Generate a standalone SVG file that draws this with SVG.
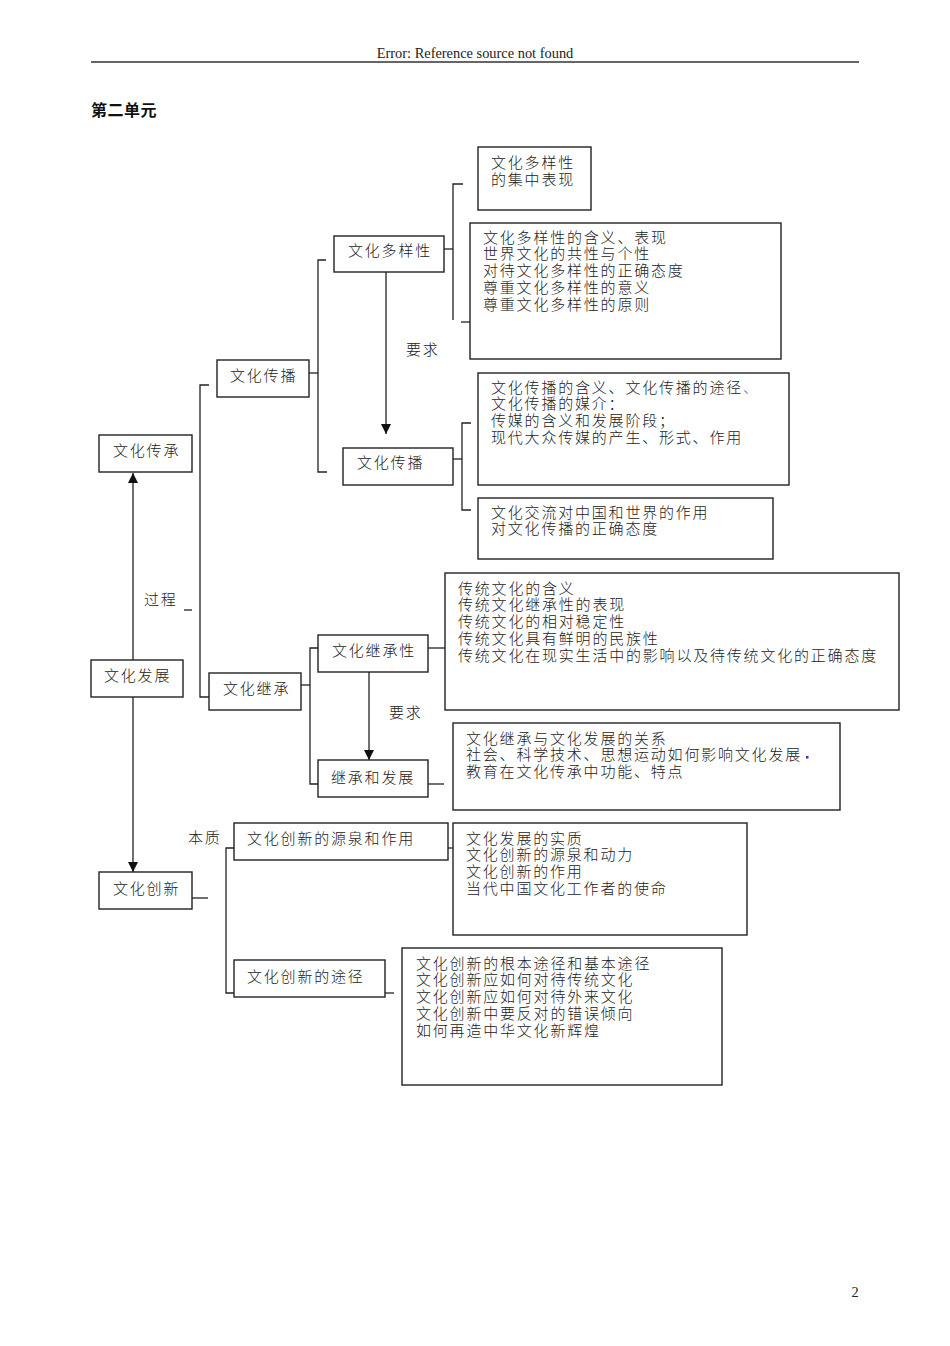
<svg xmlns="http://www.w3.org/2000/svg" width="950" height="1346" viewBox="0 0 950 1346">
<style>
.bg{fill:#fff}
.box{fill:#fff;stroke:#222;stroke-width:1.4}
.ln{fill:none;stroke:#222;stroke-width:1.3}
.t{font-family:"Noto Sans CJK SC","Noto Sans CJK JP",sans-serif;font-size:15px;font-weight:300;letter-spacing:1.8px;fill:#222}
.hdr{font-family:"Liberation Serif",serif;font-size:14.4px;fill:#222}
.ttl{font-family:"Noto Sans CJK SC",sans-serif;font-size:16px;letter-spacing:0.5px;font-weight:bold;fill:#111}
</style>
<defs>
<marker id="ah" viewBox="0 0 10 10" refX="10" refY="5" markerWidth="10" markerHeight="10" markerUnits="userSpaceOnUse" orient="auto">
<path d="M0,0 L10,5 L0,10 z" fill="#111"/>
</marker>
</defs>
<rect class="bg" x="0" y="0" width="950" height="1346"/>

<g id="header">
<text class="hdr" x="475" y="58" text-anchor="middle">Error: Reference source not found</text>
<line x1="91" y1="62" x2="859" y2="62" stroke="#333" stroke-width="1.6"/>
<text class="ttl" x="91" y="116">第二单元</text>
<text class="hdr" x="855" y="1297" text-anchor="middle">2</text>
</g>

<g id="connectors">
<line class="ln" x1="133" y1="660" x2="133" y2="473" marker-end="url(#ah)"/>
<line class="ln" x1="133" y1="697" x2="133" y2="872" marker-end="url(#ah)"/>
<polyline class="ln" points="209,385 200,385 200,697 209,697"/>
<line class="ln" x1="184" y1="610" x2="192" y2="610"/>
<line class="ln" x1="309" y1="373" x2="318" y2="373"/>
<polyline class="ln" points="326,260 318,260 318,472 327,472"/>
<line class="ln" x1="444" y1="249" x2="453" y2="249"/>
<polyline class="ln" points="463,184 453,184 453,320"/>
<line class="ln" x1="461" y1="322" x2="470" y2="322"/>
<line class="ln" x1="386" y1="272" x2="386" y2="434" marker-end="url(#ah)"/>
<line class="ln" x1="453" y1="459" x2="462" y2="459"/>
<polyline class="ln" points="471,423 462,423 462,510 471,510"/>
<line class="ln" x1="301" y1="685" x2="310" y2="685"/>
<polyline class="ln" points="318,648 310,648 310,784 318,784"/>
<line class="ln" x1="428" y1="648" x2="445" y2="648"/>
<line class="ln" x1="428" y1="784" x2="444" y2="784"/>
<line class="ln" x1="369" y1="672" x2="369" y2="760" marker-end="url(#ah)"/>
<line class="ln" x1="192" y1="898" x2="208" y2="898"/>
<polyline class="ln" points="234,848 226,848 226,993 234,993"/>
<line class="ln" x1="444" y1="848" x2="453" y2="848"/>
<line class="ln" x1="385" y1="993" x2="394" y2="993"/>
</g>

<g id="labels">
<text class="t" x="144" y="605">过程</text>
<text class="t" x="406" y="355">要求</text>
<text class="t" x="389" y="718">要求</text>
<text class="t" x="188" y="843">本质</text>
</g>

<g id="n-fazhan"><rect class="box" x="91" y="660" width="92" height="37"/><text class="t" x="104" y="681">文化发展</text></g>
<g id="n-chuancheng"><rect class="box" x="99" y="435" width="93" height="37"/><text class="t" x="113" y="456">文化传承</text></g>
<g id="n-chuangxin"><rect class="box" x="99" y="872" width="93" height="37"/><text class="t" x="113" y="894">文化创新</text></g>

<g id="n-chuanbo1"><rect class="box" x="217" y="360" width="92" height="37"/><text class="t" x="230" y="381">文化传播</text></g>
<g id="n-duoyang"><rect class="box" x="334" y="236" width="110" height="36"/><text class="t" x="348" y="256">文化多样性</text></g>
<g id="n-chuanbo2"><rect class="box" x="343" y="448" width="110" height="37"/><text class="t" x="357" y="468">文化传播</text></g>

<g id="b-jizhong"><rect class="box" x="478" y="147" width="113" height="63"/>
<text class="t" x="491" y="167.5">文化多样性<tspan x="491" dy="17">的集中表现</tspan></text></g>
<g id="b-duoyang"><rect class="box" x="470" y="223" width="311" height="136"/>
<text class="t" x="483" y="242.5">文化多样性的含义、表现<tspan x="483" dy="16.75">世界文化的共性与个性</tspan><tspan x="483" dy="16.75">对待文化多样性的正确态度</tspan><tspan x="483" dy="16.75">尊重文化多样性的意义</tspan><tspan x="483" dy="16.75">尊重文化多样性的原则</tspan></text></g>

<g id="b-chuanbo"><rect class="box" x="478" y="373" width="311" height="112"/>
<text class="t" x="491" y="392.5">文化传播的含义、文化传播的途径<tspan fill="#6a7fb0">、</tspan><tspan x="491" dy="16.75">文化传播的媒介：</tspan><tspan x="491" dy="16.75">传媒的含义和发展阶段；</tspan><tspan x="491" dy="16.75">现代大众传媒的产生、形式、作用</tspan></text></g>
<g id="b-jiaoliu"><rect class="box" x="478" y="498" width="295" height="61"/>
<text class="t" x="491" y="517.5">文化交流对中国和世界的作用<tspan x="491" dy="16.75">对文化传播的正确态度</tspan></text></g>

<g id="n-jicheng"><rect class="box" x="209" y="673" width="92" height="37"/><text class="t" x="223" y="694">文化继承</text></g>
<g id="n-jichengxing"><rect class="box" x="318" y="635" width="110" height="37"/><text class="t" x="332" y="656">文化继承性</text></g>
<g id="n-jichengfazhan"><rect class="box" x="318" y="760" width="110" height="37"/><text class="t" x="331" y="783">继承和发展</text></g>

<g id="b-chuantong"><rect class="box" x="445" y="573" width="454" height="137"/>
<text class="t" x="458" y="593.5">传统文化的含义<tspan x="458" dy="16.75">传统文化继承性的表现</tspan><tspan x="458" dy="16.75">传统文化的相对稳定性</tspan><tspan x="458" dy="16.75">传统文化具有鲜明的民族性</tspan><tspan x="458" dy="16.75">传统文化在现实生活中的影响以及待传统文化的正确态度</tspan></text></g>
<g id="b-guanxi"><rect class="box" x="453" y="723" width="387" height="87"/>
<text class="t" x="466" y="743.5">文化继承与文化发展的关系<tspan x="466" dy="16.75">社会、科学技术、思想运动如何影响文化发展</tspan><tspan x="466" dy="16.75">教育在文化传承中功能、特点</tspan></text>
<rect x="806" y="756" width="2.5" height="2.5" fill="#2b3f9e"/></g>

<g id="n-yuanquan"><rect class="box" x="234" y="823" width="214" height="37"/><text class="t" x="247" y="843.5">文化创新的源泉和作用</text></g>
<g id="n-tujing"><rect class="box" x="234" y="960" width="151" height="37"/><text class="t" x="247" y="981.5">文化创新的途径</text></g>

<g id="b-shizhi"><rect class="box" x="453" y="823" width="294" height="112"/>
<text class="t" x="466" y="843.5">文化发展的实质<tspan x="466" dy="16.75">文化创新的源泉和动力</tspan><tspan x="466" dy="16.75">文化创新的作用</tspan><tspan x="466" dy="16.75">当代中国文化工作者的使命</tspan></text></g>
<g id="b-tujing"><rect class="box" x="402" y="948" width="320" height="137"/>
<text class="t" x="416" y="968.5">文化创新的根本途径和基本途径<tspan x="416" dy="16.75">文化创新应如何对待传统文化</tspan><tspan x="416" dy="16.75">文化创新应如何对待外来文化</tspan><tspan x="416" dy="16.75">文化创新中要反对的错误倾向</tspan><tspan x="416" dy="16.75">如何再造中华文化新辉煌</tspan></text></g>
</svg>
